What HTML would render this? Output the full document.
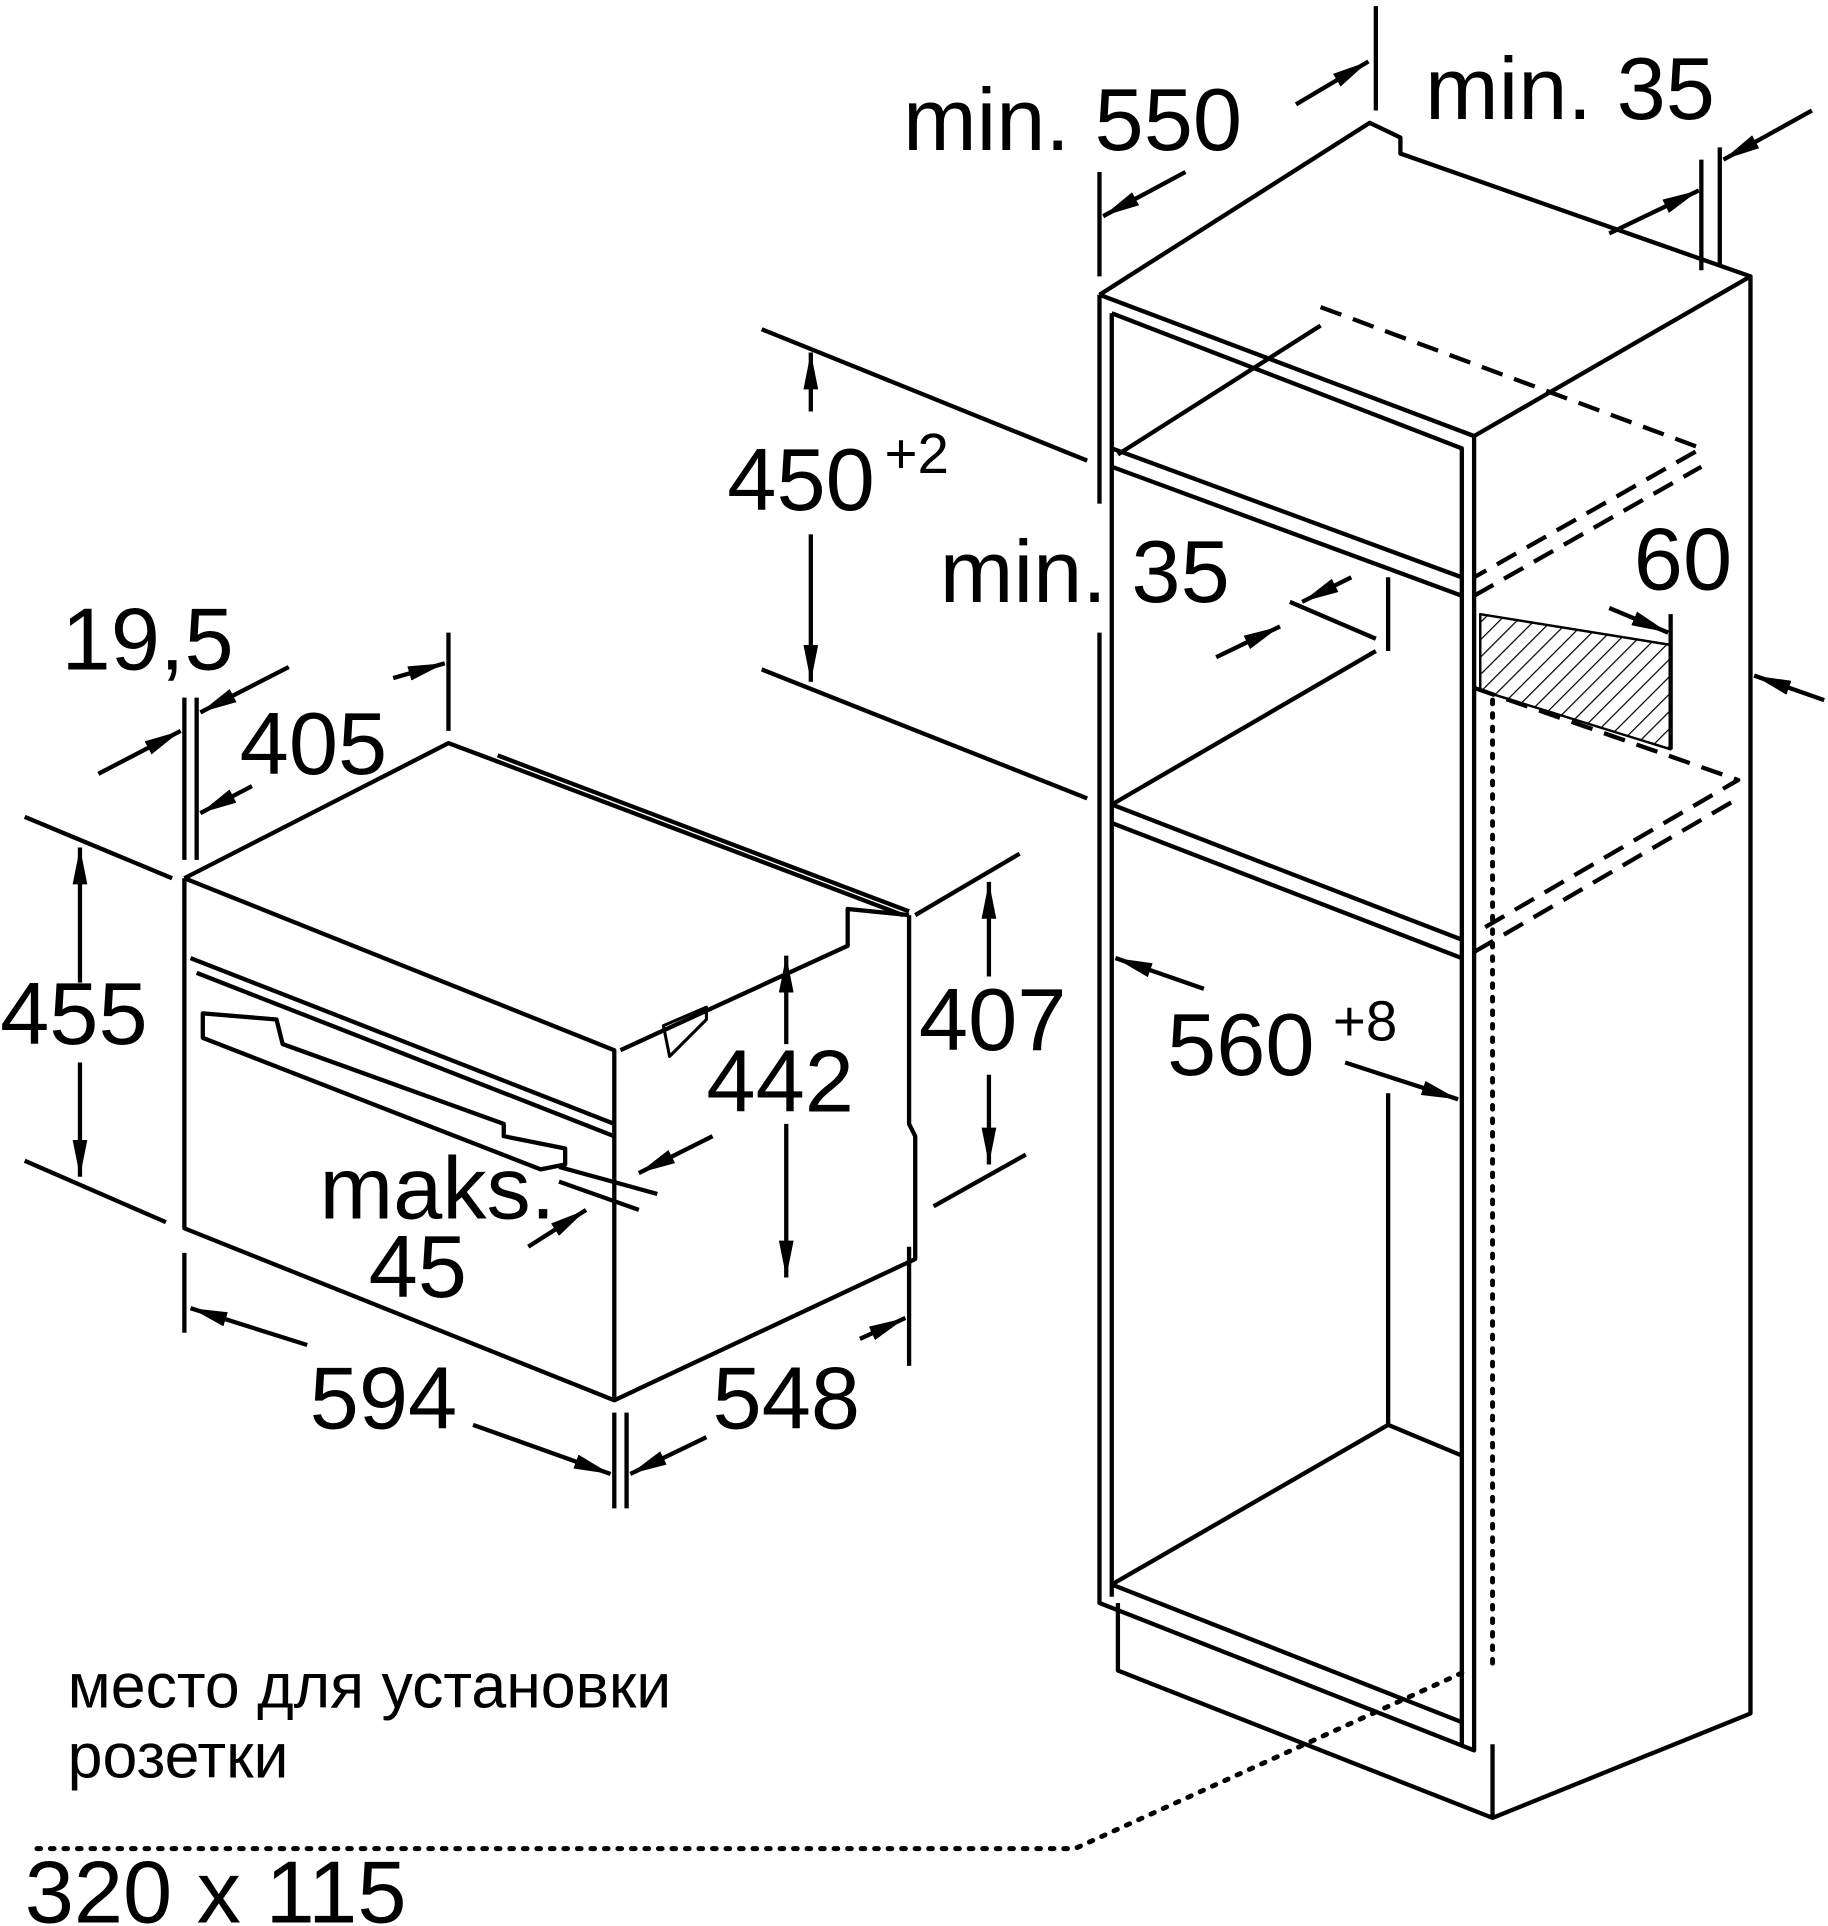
<!DOCTYPE html>
<html><head><meta charset="utf-8"><style>
html,body{margin:0;padding:0;background:#fff;}
svg{display:block;}
text{font-family:"Liberation Sans","DejaVu Sans",sans-serif;fill:#000;}
</style></head><body>
<svg width="1828" height="1926" viewBox="0 0 1488 1568" xmlns="http://www.w3.org/2000/svg">
<defs>
<marker id="a" viewBox="0 0 30 12" refX="30" refY="6" markerWidth="30" markerHeight="12" orient="auto-start-reverse" markerUnits="userSpaceOnUse">
<path d="M0,0 L30,6 L0,12 z" fill="#000"/>
</marker>
<pattern id="h" width="10" height="10" patternUnits="userSpaceOnUse" patternTransform="rotate(45)">
<line x1="0" y1="0" x2="0" y2="10" stroke="#000" stroke-width="2"/>
</pattern>
</defs>
<g fill="none" stroke="#000" stroke-width="3.5" stroke-linejoin="round">
<!-- OVEN -->
<path d="M150,715 L150,1000 L500,1140 L500,855 L150,715"/>
<path d="M150,715 L365,605 L405,620 L735,745"/>
<path d="M405,615 L740,742"/>
<path d="M740,745 L740,915 L745,925 L745,1025 L500,1140"/>
<path d="M505,855 L690,770 L690,740 L740,745"/>
<path d="M155,780 L500,915 M160,792 L500,925"/>
<path d="M165,825 L225,830 L230,850 L410,915 L410,925 L460,935 L460,948 L440,952 L165,845 Z"/>
<path d="M540,835 L575,820 L575,830 L545,860 Z" stroke-width="2.5"/>
<!-- oven dims -->
<path d="M20,665 L140,715 M20,945 L135,995"/>
<path d="M65,690 L65,800" marker-start="url(#a)"/>
<path d="M65,865 L65,958" marker-end="url(#a)"/>
<path d="M745,745 L830,695 M760,982 L835,940"/>
<path d="M805,718 L805,795" marker-start="url(#a)"/>
<path d="M805,875 L805,948" marker-end="url(#a)"/>
<path d="M640,778 L640,850" marker-start="url(#a)"/>
<path d="M640,915 L640,1040" marker-end="url(#a)"/>
<path d="M150,1020 L150,1085 M500,1150 L500,1228 M510,1150 L510,1228 M740,1015 L740,1112"/>
<path d="M250,1095 L155,1065" marker-end="url(#a)"/>
<path d="M385,1160 L497,1200" marker-end="url(#a)"/>
<path d="M575,1170 L513,1200" marker-end="url(#a)"/>
<path d="M700,1090 L737,1073" marker-end="url(#a)"/>
<path d="M150,568 L150,700 M160,568 L160,700 M365,515 L365,595"/>
<path d="M80,630 L147,595" marker-end="url(#a)"/>
<path d="M235,543 L163,580" marker-end="url(#a)"/>
<path d="M320,552 L362,540" marker-end="url(#a)"/>
<path d="M205,640 L163,662" marker-end="url(#a)"/>
<path d="M580,925 L520,955" marker-end="url(#a)"/>
<path d="M430,1015 L477,985" marker-end="url(#a)"/>
<path d="M455,950 L535,972 M455,962 L520,985"/>
<!-- CABINET -->
<path d="M895,240 L1115,100 L1140,112 L1140,125 L1425,225 L1425,1395 L1215,1480 L1215,1420"/>
<path d="M895,240 L895,410 M895,515 L895,1305 L1200,1425 L1200,355 L895,240"/>
<path d="M1200,355 L1425,225"/>
<path d="M905,255 L905,1300 M905,255 L1190,365 L1190,1420"/>
<path d="M905,365 L1190,470 M905,380 L1190,485 M910,370 L1075,265"/>
<path d="M905,655 L1190,765 M905,670 L1190,780 M905,655 L1120,530"/>
<path d="M905,1290 L1190,1402 M905,1290 L1130,1160 L1190,1185 M1130,890 L1130,1160"/>
<path d="M1130,470 L1130,530 M910,1305 L910,1360 L1215,1480"/>
<g stroke-dasharray="18,10">
<path d="M1075,250 L1385,365 L1200,470 M1200,485 L1385,380 M1200,560 L1415,635 L1200,760 M1200,775 L1415,650"/>
</g>
<path d="M1205,500 L1360,525 L1360,610 L1205,562 Z" fill="url(#h)" stroke-width="2"/>
<path d="M1215,570 L1215,1355 M1190,1362 L875,1505 L30,1505" stroke-dasharray="3,8" stroke-width="4" stroke-linecap="round"/>
<!-- cabinet dims -->
<path d="M620,268 L885,375 M620,545 L885,650"/>
<path d="M660,335 L660,287" marker-end="url(#a)"/>
<path d="M660,435 L660,555" marker-end="url(#a)"/>
<path d="M895,140 L895,225 M1120,5 L1120,90"/>
<path d="M1055,85 L1114,50" marker-end="url(#a)"/>
<path d="M965,140 L898,176" marker-end="url(#a)"/>
<path d="M1385,130 L1385,220 M1400,120 L1400,215"/>
<path d="M1310,190 L1383,155" marker-end="url(#a)"/>
<path d="M1475,90 L1403,130" marker-end="url(#a)"/>
<path d="M1050,490 L1120,520"/>
<path d="M1060,490 L1100,470" marker-start="url(#a)"/>
<path d="M990,535 L1042,510" marker-end="url(#a)"/>
<path d="M1360,500 L1360,610"/>
<path d="M1310,495 L1358,515" marker-end="url(#a)"/>
<path d="M1485,570 L1428,550" marker-end="url(#a)"/>
<path d="M980,805 L908,780" marker-end="url(#a)"/>
<path d="M1095,865 L1187,895" marker-end="url(#a)"/>
</g>
<g font-size="72">
<text x="0" y="850">455</text>
<text x="748" y="855">407</text>
<text x="575" y="905">442</text>
<text x="252" y="1163">594</text>
<text x="580" y="1163">548</text>
<text x="195" y="630">405</text>
<text x="50" y="545">19,5</text>
<text x="260" y="992">maks.</text>
<text x="300" y="1056">45</text>
<text x="735" y="122">min. 550</text>
<text x="1160" y="97">min. 35</text>
<text x="592" y="415">450</text>
<text x="765" y="490">min. 35</text>
<text x="1330" y="480">60</text>
<text x="950" y="875">560</text>
<text x="20" y="1565">320 x 115</text>
</g>
<g font-size="46"><text x="720" y="385">+2</text><text x="1085" y="847">+8</text></g>
<g font-size="51"><text x="55" y="1390">место для установки</text><text x="55" y="1447">розетки</text></g>
</svg>
</body></html>
